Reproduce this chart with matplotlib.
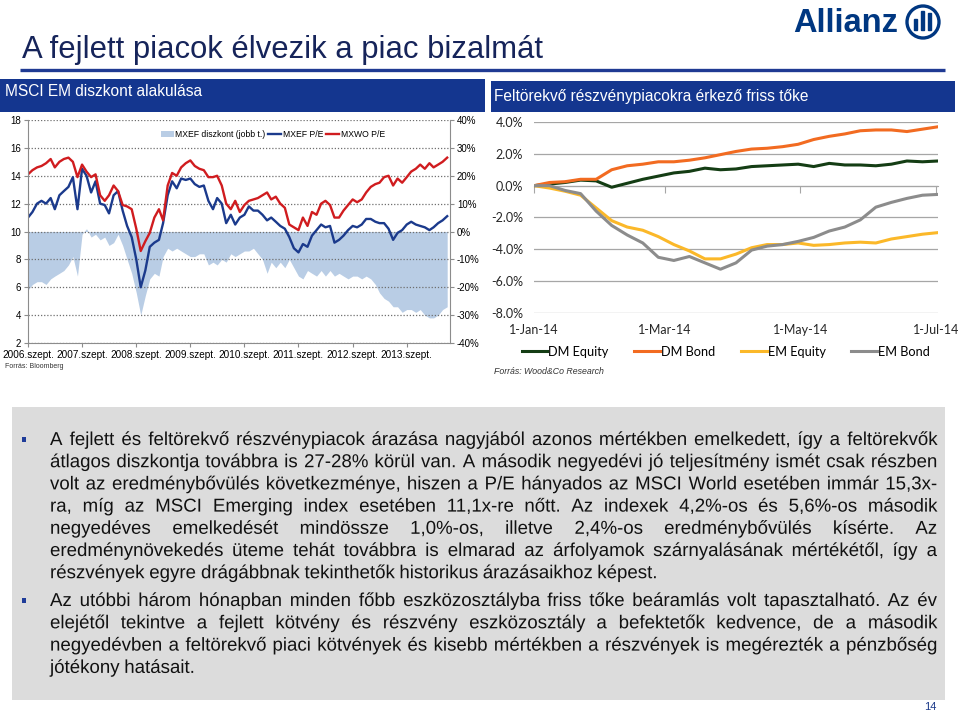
import numpy as np
import pandas as pd
import matplotlib
matplotlib.use("Agg")
import matplotlib.pyplot as plt
import matplotlib.patheffects as pe
from matplotlib.patches import Rectangle, Circle
from matplotlib.ticker import FuncFormatter

W, H = 960, 715
SANS = 'Liberation Sans'
CAL = 'Lato'
BLUE = '#14368f'

# --- left chart: MSCI EM discount (monthly, 2006.09 - 2014.06) ---
mxwo_pe = [14.1, 14.4, 14.6, 14.7, 14.9, 15.2, 14.6, 15.0, 15.2, 15.3, 15.0, 13.9,
           14.8, 14.3, 13.9, 14.1, 12.6, 12.2, 12.6, 13.3, 12.9, 11.9, 11.8, 11.6,
           10.2, 8.6, 9.3, 9.9, 11.0, 11.6, 10.8, 13.3, 14.2, 14.0, 14.6, 14.9,
           15.1, 14.7, 14.5, 14.4, 13.9, 13.9, 14.0, 13.3, 12.0, 11.6, 12.2, 11.4,
           11.9, 12.2, 12.3, 12.4, 12.6, 12.8, 12.3, 12.5, 12.0, 11.7, 10.5, 10.3,
           10.1, 11.0, 10.4, 11.4, 11.2, 12.0, 12.2, 11.9, 11.0, 11.0, 11.5, 11.9,
           12.3, 12.1, 12.3, 12.8, 13.2, 13.4, 13.5, 13.9, 14.0, 13.3, 13.8, 13.5,
           13.9, 14.3, 14.5, 14.8, 14.5, 14.9, 14.6, 14.8, 15.0, 15.3]
mxef_pe = [11.0, 11.4, 12.0, 12.2, 12.0, 12.4, 11.6, 12.6, 12.9, 13.2, 13.9, 11.6,
           14.5, 14.0, 12.8, 13.6, 12.0, 11.9, 11.3, 12.6, 12.9, 11.5, 10.4, 9.6,
           8.0, 6.0, 7.2, 8.9, 9.2, 9.4, 10.6, 12.6, 13.6, 13.1, 13.8, 13.7,
           13.8, 13.4, 13.2, 13.3, 12.2, 11.6, 12.4, 12.0, 10.6, 11.2, 10.5, 11.0,
           11.2, 11.8, 11.5, 11.5, 11.2, 10.8, 11.0, 10.7, 10.4, 10.2, 9.6, 8.8,
           8.5, 9.1, 8.9, 9.7, 10.1, 10.5, 10.3, 10.4, 9.2, 9.4, 9.7, 10.1,
           10.4, 10.3, 10.5, 10.9, 10.9, 10.7, 10.6, 10.6, 10.2, 9.4, 9.9, 10.1,
           10.5, 10.7, 10.5, 10.4, 10.3, 10.1, 10.3, 10.6, 10.8, 11.1]
mxef_disc = [-21, -19, -18, -18, -19, -17, -16, -15, -14, -12, -9, -16,
             -1, 1, -2, -1, -3, -2, -5, -4, -1, -5, -10, -15,
             -22, -30, -23, -17, -15, -16, -9, -6, -7, -6, -7, -8,
             -9, -9, -8, -8, -12, -11, -12, -10, -11, -8, -9, -8,
             -7, -7, -6, -8, -10, -15, -11, -13, -11, -13, -10, -13,
             -16, -17, -14, -15, -16, -14, -16, -14, -16, -15, -16, -17,
             -16, -16, -17, -16, -17, -19, -22, -24, -25, -27, -27, -29,
             -28, -28, -29, -28, -30, -31, -31, -30, -28, -27]
months = pd.date_range('2006-09-01', periods=len(mxwo_pe), freq='MS')
tick_years = [2006, 2007, 2008, 2009, 2010, 2011, 2012, 2013]

# --- right chart: fund flows 2014 (weekly, %) ---
flow_dates = pd.date_range('2014-01-01', periods=27, freq='7D')
dm_equity = [0.0, 0.1, 0.2, 0.35, 0.3, -0.1, 0.15, 0.4, 0.6, 0.8, 0.9, 1.1, 1.0, 1.05,
             1.2, 1.25, 1.3, 1.35, 1.2, 1.4, 1.3, 1.3, 1.25, 1.35, 1.55, 1.5, 1.55]
dm_bond = [0.0, 0.2, 0.25, 0.4, 0.4, 1.0, 1.25, 1.35, 1.5, 1.5, 1.6, 1.75, 1.95, 2.15,
           2.3, 2.35, 2.45, 2.6, 2.9, 3.1, 3.25, 3.45, 3.5, 3.5, 3.4, 3.55, 3.7]
em_equity = [0.0, -0.15, -0.35, -0.6, -1.4, -2.2, -2.6, -2.8, -3.2, -3.7, -4.1, -4.6, -4.6,
             -4.3, -3.9, -3.7, -3.7, -3.6, -3.75, -3.7, -3.6, -3.55, -3.6, -3.35, -3.2, -3.05, -2.95]
em_bond = [0.0, 0.0, -0.3, -0.5, -1.6, -2.5, -3.1, -3.6, -4.5, -4.7, -4.45, -4.85, -5.25,
           -4.85, -4.05, -3.8, -3.7, -3.5, -3.25, -2.85, -2.6, -2.15, -1.35, -1.05, -0.8, -0.6, -0.55]
flow_ticks = ['2014-01-01', '2014-03-01', '2014-05-01', '2014-07-01']
flow_labels = ['1-Jan-14', '1-Mar-14', '1-May-14', '1-Jul-14']

# --- slide text ---
title = 'A fejlett piacok élvezik a piac bizalmát'
left_head = 'MSCI EM diszkont alakulása'
right_head = 'Feltörekvő részvénypiacokra érkező friss tőke'
para1 = ['A fejlett és feltörekvő részvénypiacok árazása nagyjából azonos mértékben emelkedett, így a feltörekvők',
         'átlagos diszkontja továbbra is 27-28% körül van. A második negyedévi jó teljesítmény ismét csak részben',
         'volt az eredménybővülés következménye, hiszen a P/E hányados az MSCI World esetében immár 15,3x-',
         'ra, míg az MSCI Emerging index esetében 11,1x-re nőtt. Az indexek 4,2%-os és 5,6%-os második',
         'negyedéves emelkedését mindössze 1,0%-os, illetve 2,4%-os eredménybővülés kísérte. Az',
         'eredménynövekedés üteme tehát továbbra is elmarad az árfolyamok szárnyalásának mértékétől, így a',
         'részvények egyre drágábbnak tekinthetők historikus árazásaikhoz képest.']
para2 = ['Az utóbbi három hónapban minden főbb eszközosztályba friss tőke beáramlás volt tapasztalható. Az év',
         'elejétől tekintve a fejlett kötvény és részvény eszközosztály a befektetők kedvence, de a második',
         'negyedévben a feltörekvő piaci kötvények és kisebb mértékben a részvények is megérezték a pénzbőség',
         'jótékony hatásait.']

fig = plt.figure(figsize=(9.6, 7.15), dpi=100)
deco = fig.add_axes([0, 0, 1, 1])
deco.set_xlim(0, W)
deco.set_ylim(H, 0)
deco.axis('off')

# header
deco.text(793, 23, 'Allianz', fontsize=23.5, weight='bold', color='#003781',
          va='center', ha='left', family=SANS)
deco.add_patch(Circle((923, 22), 16, fill=False, lw=2.4, ec='#003781'))
deco.add_patch(Rectangle((913.5, 19), 3.5, 11, color='#003781'))
deco.add_patch(Rectangle((920.5, 11), 3.5, 19, color='#003781'))
deco.add_patch(Rectangle((927.5, 13), 3.5, 17, color='#003781'))
deco.text(22, 50, title, fontsize=22.3, color='#16245a', va='center', ha='left', family=SANS)
deco.plot([20, 945], [70, 70], color='#1f3a93', lw=2.4, solid_capstyle='butt')
deco.add_patch(Rectangle((0, 79), 485, 33, color=BLUE, lw=0))
deco.add_patch(Rectangle((491, 81), 464, 31, color=BLUE, lw=0))
deco.text(5, 92, left_head, fontsize=11.2, color='white', va='center', family=SANS)
deco.text(494, 97, right_head, fontsize=11.2, color='white', va='center', family=SANS)

# text box; words are drawn through a path effect so that baselines line up exactly
deco.add_patch(Rectangle((12, 407), 933, 293, color='#dcdcdc', lw=0))
renderer = fig.canvas.get_renderer()
BODY_FS = 13.45
as_path = [pe.Normal()]


def measure(s):
    t = deco.text(0, 0, s, fontsize=BODY_FS, family=SANS)
    w = t.get_window_extent(renderer).width
    t.remove()
    return w


space_w = measure('a a') - measure('aa')


def draw_para(lines, y0, step, x0=50, x1=937):
    deco.add_patch(Rectangle((22, y0 - 2.5), 4, 5, color='#1f3c99', lw=0))
    for i, line in enumerate(lines):
        y = y0 + i * step + 6
        words = line.split(' ')
        texts = [deco.text(x0, y, w, fontsize=BODY_FS, family=SANS, color='#111111',
                           va='baseline', ha='left', path_effects=as_path) for w in words]
        widths = [t.get_window_extent(renderer).width for t in texts]
        if i < len(lines) - 1 and len(texts) > 1:
            gap = (x1 - x0 - sum(widths)) / (len(texts) - 1)
        else:
            gap = space_w
        x = x0
        for t, w in zip(texts, widths):
            t.set_x(x)
            x += w + gap


draw_para(para1, 439, 22.2)
draw_para(para2, 600, 22.3)
deco.text(930, 707, '14', fontsize=8, color='#1c3a8a', ha='center', va='center', family=SANS)

# left chart
axL = fig.add_axes([28 / W, 1 - 343 / H, 422 / W, 223 / H])
axR = axL.twinx()
axR.fill_between(months, mxef_disc, 0, color='#b9cde5', lw=0, label='MXEF diszkont (jobb t.)')
axL.set_zorder(axR.get_zorder() + 1)
axL.patch.set_visible(False)
axL.plot(months, mxef_pe, color='#1b3a8c', lw=1.7, label='MXEF P/E')
axL.plot(months, mxwo_pe, color='#d01c1f', lw=1.7, label='MXWO P/E')
axL.set_ylim(2, 18)
axL.set_yticks(range(2, 19, 2))
axR.set_ylim(-40, 40)
axR.set_yticks(range(-40, 41, 10))
axR.yaxis.set_major_formatter(FuncFormatter(lambda v, p: f'{v:.0f}%'))
axL.set_xlim(months[0], pd.Timestamp('2014-06-20'))
xt = [pd.Timestamp(f'{y}-09-01') for y in tick_years]
axL.set_xticks(xt)
axL.set_xticklabels([f'{y}.szept.' for y in tick_years])
axL.grid(axis='y', ls=(0, (1, 1.5)), color='#6f6f6f', lw=0.9)
for a in (axL, axR):
    for s in a.spines.values():
        s.set_visible(False)
axL.spines['left'].set_visible(True)
axL.spines['bottom'].set_visible(True)
axR.spines['right'].set_visible(True)
for a in (axL, axR):
    for s in a.spines.values():
        s.set_color('#8c8c8c')
    a.tick_params(labelsize=7, length=3, color='#8c8c8c', pad=2)
    for lab in a.get_xticklabels() + a.get_yticklabels():
        lab.set_family(SANS)
axL.tick_params(axis='x', labelsize=7.2, pad=2)
h1, l1 = axR.get_legend_handles_labels()
h2, l2 = axL.get_legend_handles_labels()
leg = axL.legend(h1 + h2, l1 + l2, loc='center', bbox_to_anchor=(0.58, 0.937), ncol=3,
                 frameon=False, prop={'family': SANS, 'size': 6.2}, handlelength=1.5,
                 handletextpad=0.2, columnspacing=0.3, borderaxespad=0)
deco.text(5, 367, 'Forrás: Bloomberg', fontsize=5, color='#333333', va='center', family=SANS)

# right chart
axF = fig.add_axes([534 / W, 1 - 313 / H, 404 / W, 191 / H])
axF.plot(flow_dates, dm_equity, color='#143d14', lw=2.2, label='DM Equity')
axF.plot(flow_dates, dm_bond, color='#f26b21', lw=2.2, label='DM Bond')
axF.plot(flow_dates, em_equity, color='#fbb829', lw=2.2, label='EM Equity')
axF.plot(flow_dates, em_bond, color='#8c8c8c', lw=2.2, label='EM Bond')
axF.set_ylim(-8, 4)
axF.set_yticks(np.arange(-8, 4.1, 2))
axF.yaxis.set_major_formatter(FuncFormatter(lambda v, p: f'{v:.1f}%'))
axF.set_xlim(flow_dates[0], flow_dates[-1])
ft = pd.to_datetime(flow_ticks)
axF.set_xticks(ft)
axF.set_xticklabels(flow_labels)
axF.grid(axis='y', color='#a6a6a6', lw=0.9)
axF.set_axisbelow(True)
for s in axF.spines.values():
    s.set_visible(False)
axF.tick_params(length=0, labelsize=9, colors='#262626')
axF.tick_params(axis='y', pad=8)
axF.tick_params(axis='x', pad=8)
for lab in axF.get_xticklabels() + axF.get_yticklabels():
    lab.set_family(CAL)
sec = axF.secondary_xaxis(8 / 12)
sec.set_alignment('bottom')
sec.set_xticks(ft)
sec.tick_params(direction='out', length=5, labelbottom=False, color='#a6a6a6')
sec.spines['bottom'].set_color('#a6a6a6')
axF.legend(loc='center', bbox_to_anchor=(0.475, -0.204), ncol=4, frameon=False,
           prop={'family': CAL, 'size': 9.2}, handlelength=2.0, handletextpad=0.1,
           columnspacing=2.0, borderaxespad=0)
deco.text(494, 372, 'Forrás: Wood&Co Research', fontsize=6.3, style='italic',
          color='#333333', va='center', family=SANS)

fig.savefig('out.png', dpi=100)
